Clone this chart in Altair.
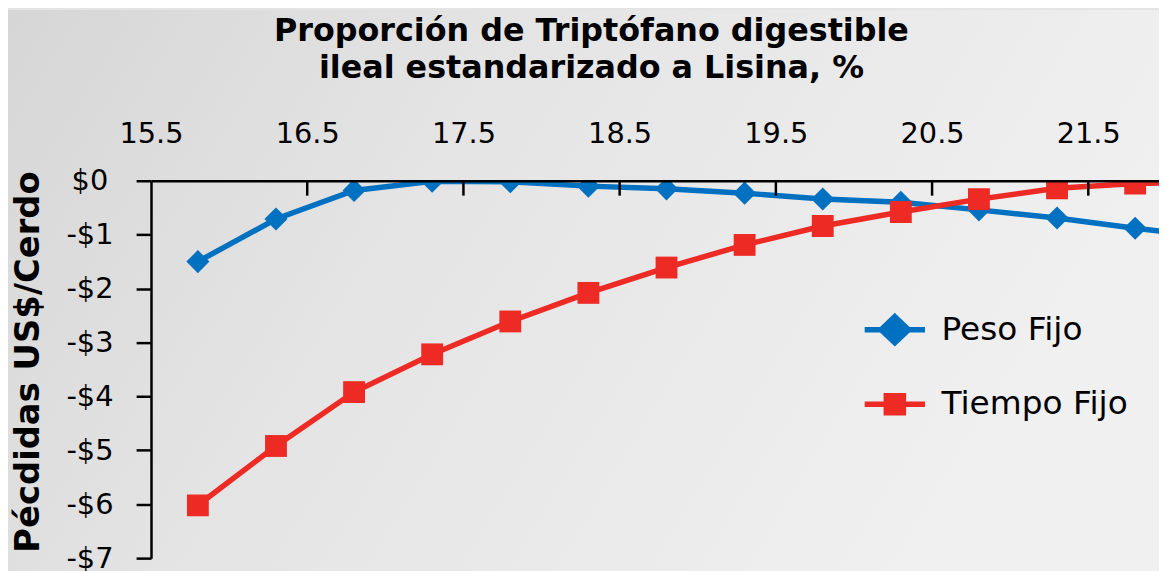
import altair as alt
import pandas as pd

# ---- data ----
x_vals = [15.8, 16.3, 16.8, 17.3, 17.8, 18.3, 18.8, 19.3, 19.8, 20.3, 20.8, 21.3, 21.8, 22.3]
peso_fijo = [-1.50, -0.71, -0.18, -0.01, -0.02, -0.10, -0.15, -0.23, -0.34, -0.40, -0.54, -0.69, -0.88, -1.05]
tiempo_fijo = [-6.02, -4.92, -3.92, -3.22, -2.61, -2.08, -1.61, -1.19, -0.84, -0.58, -0.34, -0.14, -0.05, -0.02]
series_names = ["Peso Fijo", "Tiempo Fijo"]
series_colors = ["#0070C0", "#EE2A24"]
x_tick_labels = [15.5, 16.5, 17.5, 18.5, 19.5, 20.5, 21.5]
inner_ticks = [16.5, 17.5, 18.5, 19.5, 20.5, 21.5]
y_tick_values = [0, -1, -2, -3, -4, -5, -6, -7]

rows = []
for xv, p, t in zip(x_vals, peso_fijo, tiempo_fijo):
    rows.append({"x": xv, "y": p, "serie": series_names[0]})
    rows.append({"x": xv, "y": t, "serie": series_names[1]})
df = pd.DataFrame(rows)
ticks_df = pd.DataFrame({"x": inner_ticks})

FONT = "DejaVu Sans"
W, H = 1015, 380

x_scale = alt.Scale(domain=[15.5, 15.5 + W / 157.3], nice=False, zero=False)
y_scale = alt.Scale(domain=[-7, 0], nice=False)
color_scale = alt.Scale(domain=series_names, range=series_colors)
shape_scale = alt.Scale(domain=series_names, range=["diamond", "square"])

x_axis = alt.Axis(
    orient="top", values=x_tick_labels, format=".1f", title=None,
    ticks=False, grid=False, domainColor="black", domainWidth=2.5,
    labelFont=FONT, labelFontSize=29, labelColor="black", labelPadding=33,
    labelFlush=False, zindex=1,
)
y_axis = alt.Axis(
    values=y_tick_values, grid=False, domainColor="black", domainWidth=2.5,
    tickColor="black", tickWidth=2.5, tickSize=15,
    labelExpr="datum.value == 0 ? '$0' : '-$' + abs(datum.value)",
    labelFont=FONT, labelFontSize=29, labelColor="black", labelAlign="center",
    labelPadding=47, title="Pécdidas US$/Cerdo", titleFont=FONT,
    titleFontSize=34, titleFontWeight="bold", titleColor="black",
    titleX=-123, titleY=H / 2 - 8, titleAngle=270, titleAlign="center",
    titleBaseline="middle", zindex=1,
)

bg = alt.Chart(pd.DataFrame({"a": [0]})).mark_rect(
    fill=alt.LinearGradient(
        gradient="linear", x1=0, y1=0, x2=1, y2=0.3,
        stops=[alt.GradientStop(offset=0, color="#d6d6d6"),
               alt.GradientStop(offset=0.4, color="#e4e4e4"),
               alt.GradientStop(offset=1, color="#f0f0f0")],
    ),
).encode(x=alt.value(-144), x2=alt.value(W + 10), y=alt.value(-172), y2=alt.value(H + 20))

base = alt.Chart(df)

lines = base.mark_line(strokeWidth=5.5, clip=True).encode(
    x=alt.X("x:Q", scale=x_scale, axis=x_axis),
    y=alt.Y("y:Q", scale=y_scale, axis=y_axis),
    color=alt.Color("serie:N", scale=color_scale, legend=None),
    detail="serie:N",
)

points = base.mark_point(filled=True, opacity=1, clip=True).encode(
    x=alt.X("x:Q", scale=x_scale),
    y=alt.Y("y:Q", scale=y_scale),
    color=alt.Color("serie:N", scale=color_scale, legend=None),
    shape=alt.Shape("serie:N", scale=shape_scale, legend=None),
    size=alt.condition("datum.serie === 'Peso Fijo'", alt.value(540), alt.value(484)),
)

legend_paths = [
    "M-0.92,0L0.92,0M0,-0.4L0.42,0L0,0.4L-0.42,0Z",
    "M-0.92,0L0.92,0M-0.26,-0.26L0.26,-0.26L0.26,0.26L-0.26,0.26Z",
]
legend_y = [114, 189]


def legend_layer(i):
    name = series_names[i]
    return alt.Chart(df[df["serie"] == name]).mark_point(
        shape=legend_paths[i], filled=True, opacity=0,
        stroke=series_colors[i], strokeWidth=5.5, clip=True,
    ).encode(
        x=alt.X("x:Q", scale=x_scale),
        y=alt.Y("y:Q", scale=y_scale),
        fill=alt.Fill(
            "serie:N",
            scale=alt.Scale(domain=[name], range=[series_colors[i]]),
            legend=alt.Legend(
                title=None, orient="none", legendX=713, legendY=legend_y[i],
                symbolSize=4356, symbolOpacity=1, symbolStrokeWidth=5.5,
                symbolStrokeColor=series_colors[i],
                labelFont=FONT, labelFontSize=33, labelColor="black",
                labelOffset=11, labelLimit=400, padding=0, zindex=1,
            ),
        ),
    )


tick_rules = alt.Chart(ticks_df).mark_rule(color="black", strokeWidth=2.5).encode(
    x=alt.X("x:Q", scale=x_scale), y=alt.value(0), y2=alt.value(15)
)

chart = alt.layer(
    bg, lines, points, tick_rules, legend_layer(0), legend_layer(1)
).resolve_scale(fill="independent").resolve_legend(fill="independent").properties(
    width=W, height=H,
    autosize=alt.AutoSizeParams(type="none"),
    padding={"left": 144, "top": 172, "right": 0, "bottom": 11},
    title=alt.TitleParams(
        text=["Proporción de Triptófano digestible", "ileal estandarizado a Lisina, %"],
        font=FONT, fontSize=32, fontWeight="bold", color="black",
        anchor="middle", dx=-64, dy=90, lineHeight=38, offset=14, zindex=1,
    ),
).configure_view(stroke=None).configure(background="#e4e4e4")

chart.save("out.html", embed_options={"renderer": "svg", "actions": False})
